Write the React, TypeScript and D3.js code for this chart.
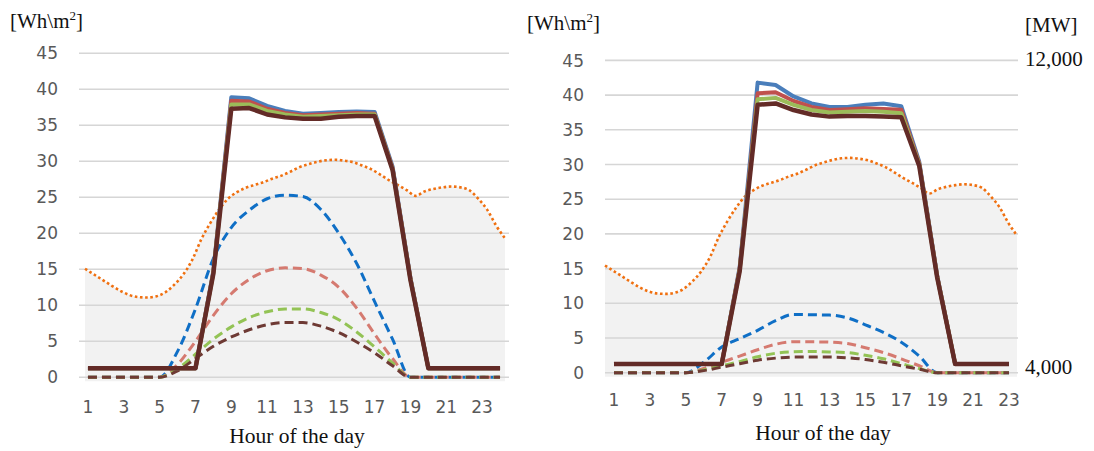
import React from 'react';
import * as d3 from 'd3';

// hours on the category axis
const hoursLeft = [1, 2, 3, 4, 5, 6, 7, 8, 9, 10, 11, 12, 13, 14, 15, 16, 17, 18, 19, 20, 21, 22, 23, 24];
const hoursRight = [1, 2, 3, 4, 5, 6, 7, 8, 9, 10, 11, 12, 13, 14, 15, 16, 17, 18, 19, 20, 21, 22, 23];
const yTicks = [0, 5, 10, 15, 20, 25, 30, 35, 40, 45];
const xTickHours = [1, 3, 5, 7, 9, 11, 13, 15, 17, 19, 21, 23];
const mwTicks = [4000, 12000];

// left panel, solid lines [Wh\m2]
const blueL = [1.25, 1.25, 1.25, 1.25, 1.25, 1.25, 1.25, 14.8, 38.9, 38.75, 37.7, 37.0, 36.6, 36.7, 36.85, 36.9, 36.85, 29.3, 13.8, 1.25, 1.25, 1.25, 1.25, 1.25];
const redL = [1.25, 1.25, 1.25, 1.25, 1.25, 1.25, 1.25, 14.6, 38.4, 38.3, 37.3, 36.7, 36.4, 36.5, 36.6, 36.7, 36.6, 29.1, 13.7, 1.25, 1.25, 1.25, 1.25, 1.25];
const greenL = [1.25, 1.25, 1.25, 1.25, 1.25, 1.25, 1.25, 14.5, 37.9, 37.9, 37.0, 36.5, 36.2, 36.3, 36.4, 36.5, 36.5, 28.9, 13.6, 1.25, 1.25, 1.25, 1.25, 1.25];
const brownL = [1.25, 1.25, 1.25, 1.25, 1.25, 1.25, 1.25, 14.4, 37.3, 37.4, 36.5, 36.1, 35.9, 35.9, 36.2, 36.3, 36.3, 28.8, 13.5, 1.25, 1.25, 1.25, 1.25, 1.25];

// left panel, dashed lines
const blueDL = [0, 0, 0, 0, 0, 3.6, 9.5, 16.5, 20.8, 23.2, 24.8, 25.3, 25.1, 23.3, 20.0, 15.8, 10.5, 5.3, 0, 0, 0, 0, 0, 0];
const redDL = [0, 0, 0, 0, 0, 1.8, 5.0, 8.6, 11.6, 13.6, 14.8, 15.2, 15.1, 14.2, 12.5, 9.6, 6.0, 2.6, 0, 0, 0, 0, 0, 0];
const greenDL = [0, 0, 0, 0, 0, 1.2, 3.2, 5.3, 7.0, 8.3, 9.1, 9.5, 9.5, 9.0, 8.0, 6.3, 4.2, 2.0, 0, 0, 0, 0, 0, 0];
const brownDL = [0, 0, 0, 0, 0, 0.9, 2.6, 4.3, 5.6, 6.6, 7.3, 7.6, 7.6, 7.1, 6.2, 4.9, 3.4, 1.6, 0, 0, 0, 0, 0, 0];

// right panel, solid lines
const blueR = [1.25, 1.25, 1.25, 1.25, 1.25, 1.25, 1.25, 15.2, 41.8, 41.45, 39.8, 38.8, 38.3, 38.3, 38.6, 38.8, 38.4, 30.4, 14.0, 1.25, 1.25, 1.25, 1.25];
const redR = [1.25, 1.25, 1.25, 1.25, 1.25, 1.25, 1.25, 15.0, 40.25, 40.4, 39.15, 38.3, 37.85, 37.95, 38.1, 38.0, 37.9, 30.2, 13.9, 1.25, 1.25, 1.25, 1.25];
const greenR = [1.25, 1.25, 1.25, 1.25, 1.25, 1.25, 1.25, 14.8, 39.4, 39.6, 38.6, 37.85, 37.5, 37.6, 37.7, 37.6, 37.4, 30.0, 13.8, 1.25, 1.25, 1.25, 1.25];
const brownR = [1.25, 1.25, 1.25, 1.25, 1.25, 1.25, 1.25, 14.6, 38.6, 38.8, 37.85, 37.2, 36.9, 37.0, 37.0, 36.9, 36.8, 29.8, 13.7, 1.25, 1.25, 1.25, 1.25];

// right panel, dashed lines
const blueDR = [0, 0, 0, 0, 0, 1.5, 3.7, 4.9, 6.1, 7.5, 8.4, 8.35, 8.3, 7.9, 6.9, 5.8, 4.4, 2.4, 0, 0, 0, 0, 0];
const redDR = [0, 0, 0, 0, 0, 0.6, 1.5, 2.4, 3.3, 4.1, 4.45, 4.45, 4.4, 4.2, 3.6, 2.9, 2.0, 1.0, 0, 0, 0, 0, 0];
const greenDR = [0, 0, 0, 0, 0, 0.4, 1.0, 1.6, 2.3, 2.8, 3.0, 3.05, 3.0, 2.9, 2.5, 2.0, 1.3, 0.6, 0, 0, 0, 0, 0];
const brownDR = [0, 0, 0, 0, 0, 0.3, 0.8, 1.3, 1.8, 2.1, 2.25, 2.25, 2.25, 2.15, 1.9, 1.5, 1.0, 0.5, 0, 0, 0, 0, 0];

// system load [MW], half-hourly
const loadMW = [
  6680, 6540, 6400, 6260, 6130, 6030, 5980, 5970, 6000, 6100, 6290, 6540,
  6900, 7400, 7800, 8140, 8410, 8570, 8680, 8750, 8820, 8910, 8980, 9080,
  9190, 9260, 9320, 9360, 9370, 9350, 9310, 9230, 9140, 9010, 8870, 8750,
  8620, 8480, 8590, 8650, 8690, 8710, 8690, 8620, 8410, 8140, 7750, 7430,
];

const SOLID = ['#4a7ebb', '#c0504d', '#9bbb59', '#632b27'];
const DASHED = ['#0f6fc6', '#d57a70', '#93c355', '#6e3a34'];
const SANS = 'DejaVu Sans';
const SERIF = 'Liberation Serif';

type PanelProps = {
  hours: number[];
  solid: number[][];
  dashed: number[][];
  x0: number; x1: number; yTop: number; yBottom: number;
  loadX: [number, number]; loadSpan: number;
  tickDy: number; unitX: number; unitY: number;
  titleX: number; titleY: number;
  mwAxis?: boolean;
};

const Panel = (p: PanelProps) => {
  const x = d3.scaleBand<number>().domain(p.hours).range([p.x0, p.x1]);
  const cx = (h: number) => (x(h) as number) + x.bandwidth() / 2;
  const y = d3.scaleLinear().domain([0, 45]).range([p.yBottom, p.yTop]);
  const lx = d3.scaleLinear().domain([0, loadMW.length - 1]).range(p.loadX);
  const ly = d3.scaleLinear().domain([4000, 12000]).range([p.yBottom, p.yBottom - p.loadSpan]);
  // label positions on the MW axis
  const labelY = d3.scaleLinear().domain([4000, 12000]).range([p.yBottom - 5, p.yTop - 1]);

  const straight = d3.line<number>().x((_, i) => cx(p.hours[i])).y(v => y(v));
  const smooth = d3.line<number>().x((_, i) => cx(p.hours[i])).y(v => y(v)).curve(d3.curveMonotoneX);
  const loadLine = d3.line<number>().x((_, i) => lx(i)).y(v => ly(v)).curve(d3.curveMonotoneX);
  const loadArea = d3.area<number>().x((_, i) => lx(i)).y0(p.yBottom + 4).y1(v => ly(v)).curve(d3.curveMonotoneX);

  return (
    <g>
      <path d={loadArea(loadMW) || ''} fill="#f2f2f2" />
      {yTicks.map(t => (
        <g key={t}>
          <line x1={p.x0} x2={p.x1} y1={y(t)} y2={y(t)} stroke="#d6d6d6" strokeWidth={1.6} />
          <text x={p.x0 - 21} y={y(t)} dy="0.36em" textAnchor="end" fontFamily={SANS} fontSize={17} fill="#595959">{t}</text>
        </g>
      ))}
      {xTickHours.filter(h => p.hours.includes(h)).map(h => (
        <text key={h} x={cx(h)} y={p.yBottom + p.tickDy} dy="0.36em" textAnchor="middle" fontFamily={SANS} fontSize={17} fill="#595959">{h}</text>
      ))}
      <path d={loadLine(loadMW) || ''} fill="none" stroke="#f07010" strokeWidth={2.6} strokeDasharray="2.6 2.6" />
      {p.dashed.map((s, i) => (
        <path key={'d' + i} d={smooth(s) || ''} fill="none" stroke={DASHED[i]} strokeWidth={3} strokeDasharray="9 5" />
      ))}
      {p.solid.map((s, i) => (
        <path key={'s' + i} d={straight(s) || ''} fill="none" stroke={SOLID[i]} strokeWidth={i === 3 ? 4.5 : 4} strokeLinejoin="round" />
      ))}
      <text x={p.unitX} y={p.unitY} fontFamily={SERIF} fontSize={21} fill="#111">
        [Wh\m<tspan fontSize={13} dy={-8}>2</tspan><tspan dy={8}>]</tspan>
      </text>
      <text x={p.titleX} y={p.titleY} textAnchor="middle" fontFamily={SERIF} fontSize={21.5} fill="#111">Hour of the day</text>
      {p.mwAxis && (
        <g fontFamily={SERIF} fontSize={21} fill="#111">
          <text x={p.x1 + 7} y={32}>[MW]</text>
          {mwTicks.map(t => (
            <text key={t} x={p.x1 + 7} y={labelY(t)} dy="0.32em">{d3.format(',')(t)}</text>
          ))}
        </g>
      )}
    </g>
  );
};

export default function App() {
  return (
    <svg width={1094} height={451} style={{ position: 'absolute', left: 0, top: 0, background: '#fff' }}>
      <Panel
        hours={hoursLeft}
        solid={[blueL, redL, greenL, brownL]}
        dashed={[blueDL, redDL, greenDL, brownDL]}
        x0={79} x1={509} yTop={53.3} yBottom={377.3}
        loadX={[85, 505]} loadSpan={324}
        tickDy={30} unitX={10} unitY={28}
        titleX={297} titleY={443}
      />
      <Panel
        hours={hoursRight}
        solid={[blueR, redR, greenR, brownR]}
        dashed={[blueDR, redDR, greenDR, brownDR]}
        x0={605} x1={1018} yTop={60.4} yBottom={372.7}
        loadX={[605, 1017]} loadSpan={320}
        tickDy={27} unitX={527} unitY={30}
        titleX={823} titleY={440}
        mwAxis
      />
    </svg>
  );
}
